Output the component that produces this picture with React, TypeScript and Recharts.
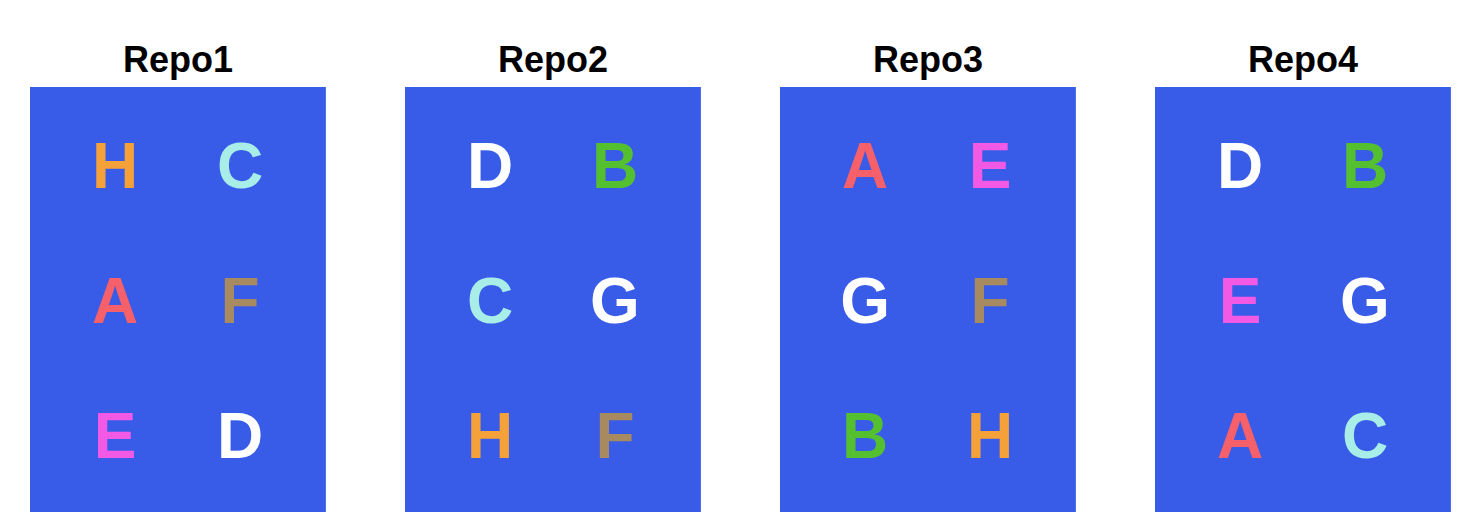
import React from "react";
import { ScatterChart, Scatter, XAxis, YAxis, ReferenceArea } from "recharts";

const repos = ["Repo1", "Repo2", "Repo3", "Repo4"];
const repo1 = ["H", "C", "A", "F", "E", "D"];
const repo2 = ["D", "B", "C", "G", "H", "F"];
const repo3 = ["A", "E", "G", "F", "B", "H"];
const repo4 = ["D", "B", "E", "G", "A", "C"];
const grids = [repo1, repo2, repo3, repo4];
const colors: Record<string, string> = {
  A: "#F5606A", B: "#55C02F", C: "#A8EDE8", D: "#FFFFFF",
  E: "#F25AE6", F: "#A88A60", G: "#FFFFFF", H: "#F4A13A",
};
const colOffsets = [0.227, 0.56];
const rowYs = [2.63, 1.63, 0.63];
const panelWidth = 0.789;
const panelTop = 3.207;
const panelBottom = 0.059;
const titleY = 3.407;

const letterData = grids.flatMap((g, i) =>
  g.map((l, k) => ({ x: i + colOffsets[k % 2], y: rowYs[Math.floor(k / 2)], l }))
);
const titleData = repos.map((r, i) => ({ x: i + panelWidth / 2, y: titleY, l: r }));

const Letter = (p: any) => (
  <text x={p.cx} y={p.cy + 23} textAnchor="middle" fontSize={64} fontWeight="bold"
    fontFamily="Liberation Sans, Arial, sans-serif" fill={colors[p.payload.l]}>{p.payload.l}</text>
);
const Title = (p: any) => (
  <text x={p.cx} y={p.cy + 12} textAnchor="middle" fontSize={36} fontWeight="bold"
    fontFamily="Liberation Sans, Arial, sans-serif" fill="#000">{p.payload.l}</text>
);

export default function App() {
  return (
    <div style={{ position: "absolute", left: 0, top: 0, background: "#fff" }}>
      <ScatterChart width={1478} height={520} margin={{ top: 0, right: 0, bottom: 0, left: 0 }}>
        <XAxis type="number" dataKey="x" domain={[-0.08, 3.8613]} hide allowDataOverflow />
        <YAxis type="number" dataKey="y" domain={[0, 3.852]} hide allowDataOverflow />
        {repos.map((r, i) => (
          <ReferenceArea key={r} x1={i} x2={i + panelWidth} y1={panelBottom} y2={panelTop}
            fill="#385BE8" fillOpacity={1} stroke="none" ifOverflow="visible" />
        ))}
        <Scatter data={titleData} shape={Title} isAnimationActive={false} />
        <Scatter data={letterData} shape={Letter} isAnimationActive={false} />
      </ScatterChart>
    </div>
  );
}
